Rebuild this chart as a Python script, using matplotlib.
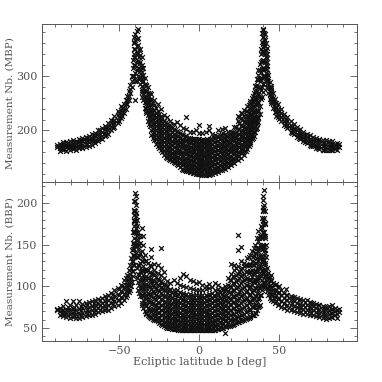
import matplotlib
matplotlib.use('Agg')
import matplotlib.pyplot as plt
from matplotlib.ticker import MultipleLocator

# Values: latitude columns and the counts read in each
top_lat = [-89,-87,-85,-83,-81,-79,-77,-75,-73,-71,-69,-67,-65,-63,-61,-59,-57,-55,-53,-51,-49,-47,-46,-45,-44,-43,-42,
           -41.5,-41,-40.5,-40,-39,-38,-37,-36,-35,-34,-33,-32,-31,-30,-28,-26,-24,-22,-20,-18,-16,-14,-12,-10,-8,-6,-4,-2,
           0,2,4,6,8,10,12,14,16,18,20,22,24,26,28,30,31,32,33,34,35,36,37,38,38.5,39,39.5,40,40.5,41,41.5,42,42.5,43,44,45,46,47,
           49,51,53,55,57,59,61,63,65,67,69,71,73,75,77,79,81,83,85,87,89]
top_meas = [
 [170,174],[163,168,172,176],[165,170,175,179],[163,169,174,178],[164,170,175,180],[166,171,176,182],[165,170,176,181],
 [167,172,178,184],[168,174,180,186],[170,176,182,188],[172,178,184,190],[174,180,186,193],[177,183,189,196],[181,187,193,200],
 [184,190,197,204],[189,195,202,209],[194,200,207,214],[200,206,213,220],[206,213,220,227],[213,220,228,235],[222,229,237,244],
 [232,240,248],[240,248,256],[248,256,264],[256,264,272],[268,276,284],[280,290,300],[300,315,330],[320,335,350,362],
 [300,320,340,360,372],[255,290,305,320,335,350,365,376],[290,310,325,340,355,368,382],[300,315,328,342,356,370,386],
 [285,298,312,326,338,350],[270,282,295,308,320,335],[255,266,278,290,302,315],[242,252,263,274,285,297],[232,242,252,262,272,284],
 [218,228,238,248,258,268,280],[208,217,226,236,246,256,268],[192,201,210,219,228,238,248,258,266],
 [182,190,198,206,214,222,230,238,246,256],[172,180,188,196,204,212,220,228,236,248],[165,172,180,188,196,203,210,218,226,240],
 [155,163,171,179,187,195,202,210,218,228],[150,157,165,172,180,188,195,203,211,224],[146,153,161,168,176,184,192,200,208,218],
 [142,149,156,163,170,178,186,194,202,212],[138,145,152,160,167,175,182,190,199,216],[133,141,149,156,163,171,179,187,196,210],
 [128,136,144,151,159,167,175,183,192,205],[125,133,140,148,156,164,172,180,189,225,203],[124,131,138,146,154,162,170,178,186,198],
 [122,129,136,144,152,160,168,176,184,198],[121,128,135,143,151,159,167,175,184,200],
 [120,127,135,143,151,159,167,175,184,196,210],[119,126,134,142,150,158,166,174,182,196],[118,126,134,142,150,158,166,174,182,198],
 [119,127,135,143,151,159,167,175,183,208,200],[120,128,136,144,152,160,168,176,184,194],[122,130,138,146,154,162,170,178,186,192],
 [124,132,140,148,156,164,172,180,188,200],[127,135,143,151,159,167,175,183,191,203],[130,138,146,154,162,170,178,186,194,205],
 [133,141,149,157,165,173,181,189,197],[136,144,152,160,168,176,184,192,198],[140,148,156,164,172,180,188,196,206],
 [145,153,161,169,177,185,193,203,218,226],[150,158,166,174,182,190,198,208,222,232],[155,163,171,179,187,196,205,215,226,238],
 [166,174,182,190,198,207,216,226,236,244],[172,180,188,197,206,215,224,234,246],[178,186,194,203,212,221,231,242,254],
 [184,192,200,209,218,227,237,248,260],[190,198,206,215,224,234,245,256,268],[198,206,215,225,236,248,260,272,282],
 [205,214,224,235,247,260,272,284,294],[215,225,238,252,266,280,292,302],[230,245,262,278,294,310,322],[258,275,292,308,325,340,350],
 [262,280,296,312,328,345,362,378],[270,285,300,315,330,345,360,372,386],[285,300,315,330,345,358,372,385],[300,314,328,342,356,368,378],
 [298,312,326,340,354,366,376],[292,306,320,334,348,360],[285,298,312,326,340,352],[280,292,304,318,332],[268,278,290,302],
 [258,267,277,288],[250,259,268,278],[242,251,260,268],[234,242,250,258],[224,232,240,248],[217,224,232,240],[210,217,224,231],
 [204,210,217,224],[198,204,210,217],[193,199,205,211],[188,194,200,206],[184,190,196,202],[181,187,192,198],[177,183,188,194],
 [174,180,185,191],[171,177,182,188],[168,174,180,186],[166,172,178,184],[165,171,177,183],[165,170,176,182],[164,170,175,180],
 [164,169,175,180],[166,171,176],[170,175]]

# Second reading of the dense parts, between the columns above
top_lat2 = [-86,-82,-78,-74,-70,-66,-62,-58,-54,-50,-48,-37.5,-35.5,-33.5,-31.5,-29,-27,-25,-23,-21,-19,-17,-15,-13,-11,-9,-7,-5,-3,-1,
            1,3,5,7,9,11,13,15,17,19,21,23,25,27,29,31.5,33.5,35.5,37,44.5,48,50,54,58,62,66,70,74,78,82,86]
top_meas2 = [
 [167,173],[167,172,177],[168,174,179],[171,177,183],[175,181,187],[180,186,192],[186,193,200],[192,199,206],[204,211,218],[217,225,232],[226,234,241],
 [295,308,322,335,348],[262,274,288,300,314],[236,248,258,270,282],[212,222,232,242,252,264],[186,194,203,212,220,229,238,250],
 [176,184,192,200,208,216,224,232,241],[168,176,184,192,200,207,214,222,231],[160,167,175,183,191,199,206,214,222],
 [152,160,168,176,184,192,199,207,215],[148,155,163,170,178,186,194,202,210],[144,151,159,166,173,181,189,197,205],
 [140,147,154,161,169,177,184,192,200],[136,143,151,158,165,173,181,189,197],[130,138,146,153,161,169,177,185,194],
 [127,134,142,150,158,166,174,182,190],[125,132,139,147,155,163,171,179,187],[123,130,137,145,153,161,169,177,185],
 [122,129,136,144,152,160,168,176,185],[120,128,136,144,152,160,168,176,185],[120,127,135,143,151,159,167,175,183],
 [119,127,135,143,151,159,167,175,183],[120,128,136,144,152,160,168,176,185],[121,129,137,145,153,161,169,177,185],
 [123,131,139,147,155,163,171,179,187],[125,133,141,149,157,165,173,181,189],[128,136,144,152,160,168,176,184,192],
 [131,139,147,155,163,171,179,187,195],[134,142,150,158,166,174,182,190],[138,146,154,162,170,178,186,194],
 [142,150,158,166,174,182,190,198],[147,155,163,171,179,187,196,206],[153,161,169,177,185,194,203,213,224],
 [160,168,176,184,192,201,210,220,232],[163,171,179,187,195,204,213,223,235],[175,183,191,200,209,218,228,239,250],
 [187,195,204,213,222,232,243,254,264],[202,212,222,234,246,258,270,282],[222,236,250,265,280,295,310],[254,262,272,282],
 [226,234,242,250],[221,228,235],[208,214,220],[195,201,207],[186,192,198],[179,185,191],[172,178,184],[168,174,180],[165,171,177],[165,170,175],[165,171,177]]

bot_lat = [-89,-87,-85,-83,-81,-79,-77,-75,-73,-71,-69,-67,-65,-63,-61,-59,-57,-55,-53,-51,-49,-47,-46,-45,-44,-43,-42.5,-42,
           -41.5,-41,-40.5,-40,-39.5,-39,-38,-37,-36,-35,-34,-33,-32,-31,-30,-28,-26,-24,-22,-20,-18,-16,-14,-12,-10,-8,-6,-4,-2,
           0,2,4,6,8,10,12,14,16,18,20,22,24,26,28,30,31,32,33,34,35,36,37,38,38.5,39,39.5,40,40.5,41,41.5,42,43,44,45,46,47,
           49,51,53,55,57,59,61,63,65,67,69,71,73,75,77,79,81,83,85,87,89]
bot_meas = [
 [71,73],[66,70,74],[64,68,72,76],[63,67,72,82],[62,67,72,77],[63,68,73,82],[62,67,72,77],[62,67,73,82],[63,68,74,79],[64,69,75,80],
 [65,70,75,81],[66,71,76,82],[67,72,77,83],[69,74,79,85],[70,75,80,86],[71,76,82,88],[72,78,84,90],[74,80,86,92],[76,82,88,95],
 [78,84,91,98],[80,87,94,102],[84,91,99,107],[87,94,102,110],[90,98,106,114],[93,101,110,120],[96,105,115,125],[100,110,122,134],
 [105,118,130,144],[112,125,138,152,165],[125,138,152,166,180,192],[135,150,165,178,190,202],[150,165,178,190,202,212],
 [150,164,176,188,198,208],[110,122,135,148,160,172,180],[95,105,115,125,135,145,155,165],[88,98,108,118,128,140,152,160],
 [80,90,100,110,120,130,142,170],[74,84,94,104,114,124,135,150,160],[70,80,90,100,110,120,130,138],[67,76,85,94,103,112,121,130],
 [65,74,83,92,101,110,120,128],[63,72,81,90,99,108,117,126],[62,70,79,88,97,106,115,124,135,145],
 [60,66,72,78,85,92,99,106,113,120,127],[58,63,69,75,81,88,95,102,109,116,125],[55,60,66,72,78,85,92,99,106,113,122,146],
 [52,57,63,69,75,81,88,95,102,110,117],[50,55,60,66,72,78,85,92,99,106],[50,55,60,65,71,77,83,90,97,104],
 [49,54,59,64,70,76,82,89,96,108],[49,54,59,64,69,75,81,88,95,104],[48,53,58,63,68,74,80,86,93,101,110],
 [47,52,57,62,67,73,79,85,92,100,115],[47,52,57,62,67,72,78,84,91,99,112],[47,52,56,61,66,72,78,84,91,98,108],
 [47,51,56,61,66,71,77,83,90,97,106],[47,52,56,61,66,71,77,83,89,96,104],[48,52,57,62,67,72,77,83,89,96,105],
 [48,52,57,62,67,72,77,83,89,95,102],[47,52,57,62,67,72,78,84,90,100,97],[47,52,57,62,67,73,79,85,91,98,103],
 [48,53,58,63,68,74,80,86,92,99],[47,53,58,64,70,76,82,88,95,104],[49,54,60,66,72,78,84,90,97,102],[50,55,61,67,73,79,85,91,98],
 [44,52,58,64,70,76,82,88,95,100],[52,57,63,69,75,81,87,94,102,110],[53,59,65,71,77,84,91,99,107,115,127],
 [55,61,67,74,81,88,95,103,111,120,125],[57,63,70,77,84,91,99,107,115,124,143,162],[58,65,72,80,88,96,104,112,120,130,147],
 [60,67,75,83,91,99,107,115,124,128],[62,70,78,86,94,102,110,118,126,134],[62,71,80,89,98,107,116,125,135],
 [64,73,82,91,100,109,118,127,138],[66,75,84,93,102,111,120,130,142],[66,76,86,96,106,116,126,136,146],
 [68,78,88,98,108,118,128,140,150],[72,82,92,102,112,122,134,146,158],[75,85,96,107,118,130,142,154,166],
 [78,90,102,114,126,138,150,160],[90,100,112,124,136,148,160,172],[95,108,120,132,145,158,170,182],[100,115,130,145,160,175,190],
 [105,120,135,150,165,180,195,208],[104,118,132,148,165,182,198,216],[100,112,125,140,158,175,190],[98,108,120,135,150],
 [94,103,112,122],[90,98,107,116],[86,94,102,111],[84,91,99,107],[82,89,96,104],[80,87,94,101],[78,85,92,99],[75,82,89,95],
 [74,80,86,92],[72,78,84,90],[71,77,83,88],[70,76,82,87],[69,75,80,86],[68,74,79,85],[67,73,78,84],[67,72,77,83],[66,71,76,81],
 [66,71,76,80],[64,69,74,79],[63,68,73,78],[62,67,72,76],[61,66,71,75],[62,67,72,76],[63,68,73,77],[65,70,74],[69,73]]

# Second reading of the dense parts, between the columns above
bot_lat2 = [-86,-82,-78,-74,-70,-66,-62,-58,-54,-50,-48,-44.5,-41.5,-40.5,-39.5,-37.5,-35.5,-33.5,-31.5,-29,-27,-25,-23,-21,-19,-17,-15,-13,-11,-9,-7,-5,-3,-1,
            1,3,5,7,9,11,13,15,17,19,21,23,25,27,29,31.5,33.5,35.5,37.5,40,41,44.5,48,50,54,58,62,66,70,74,78,82,86]
bot_meas2 = [
 [67,71],[66,71,75],[65,70,75],[66,71,76],[67,72,78],[69,74,80],[72,77,83],[74,80,86],[79,85,91],[83,90,97],[86,93,100],
 [94,102,112],[118,130,145],[145,158,172,186],[140,156,170,184],[92,102,114,126,138,150],[78,88,98,108,118,130],
 [68,78,88,98,108,118],[64,73,82,91,100,110],[61,67,73,80,87,94,101,108,115],[59,65,71,77,83,90,97,104,111],
 [56,62,68,74,80,87,94,101,108],[53,59,65,71,77,83,90,97,104],[51,57,63,69,75,81,88,95,102],[50,56,62,68,74,80,87,94],
 [49,55,61,67,73,79,86,93],[49,55,61,67,73,79,85,92],[48,54,60,66,72,78,84,91],[47,53,59,65,71,77,83,90],[47,53,59,64,70,76,82,89],
 [47,53,58,64,70,75,81,88],[47,52,58,63,69,75,81,87],[47,53,58,64,69,75,81,87],[48,53,59,64,69,75,80,87],[48,53,59,64,69,75,80,86],
 [47,53,59,64,70,75,81,87],[47,53,59,65,70,76,82,88],[48,54,60,65,71,77,83,89],[48,54,60,66,72,78,84,90],[49,55,61,67,73,79,85,92],
 [50,56,62,68,74,80,86,93],[50,56,63,69,75,81,88,95],[51,58,64,70,77,83,90,97],[52,59,65,72,79,86,93,100,108],
 [54,60,67,74,81,88,96,104,112],[56,62,69,76,83,90,98,106,114,122],[57,64,71,78,86,94,102,110,118],[59,66,74,82,90,98,106,114,122],
 [61,69,77,85,93,101,109,117,126],[63,72,81,90,99,108,117,126],[65,75,85,95,105,115,125,135],[68,78,88,98,108,118,128,140],
 [76,86,98,110,122,134,146,158],[100,116,132,148,164,178,192,204],[102,114,128,144,160,176],[90,98,106,114],[82,89,96,103],[79,86,93,100],
 [76,83,90,97],[73,80,87],[71,77,83],[69,75,81],[68,74,80],[66,72,78],[65,70,75],[63,68,73],[62,67,72]]

x_ticks = [-50, 0, 50]
top_ticks = [200, 300]
bot_ticks = [50, 100, 150, 200]
x_label = 'Ecliptic latitude b [deg]'
top_label = 'Measurement Nb. (MBP)'
bot_label = 'Measurement Nb. (BBP)'

plt.rcParams['font.family'] = 'DejaVu Serif'
GREY = '#555555'
fig = plt.figure(figsize=(3.82, 3.82), dpi=100)
W = H = 382
ax1 = fig.add_axes([42/W, 1-182/H, (356.5-42)/W, (182-23.5)/H])
ax2 = fig.add_axes([42/W, 1-341/H, (356.5-42)/W, (341-182)/H])


def flat(lat, meas):
    xs, ys = [], []
    for b, col in zip(lat, meas):
        for v in col:
            xs.append(b)
            ys.append(v)
    return xs, ys


panels = ((ax1, top_lat, top_meas, top_lat2, top_meas2), (ax2, bot_lat, bot_meas, bot_lat2, bot_meas2))
for ax, lat, meas, lat2, meas2 in panels:
    for a, m in ((lat, meas), (lat2, meas2)):
        xs, ys = flat(a, m)
        ax.scatter(xs, ys, marker='x', s=12, c='#111111', linewidths=0.9, zorder=3)
    ax.set_xlim(-98.2, 98.2)
    ax.xaxis.set_major_locator(MultipleLocator(50))
    ax.xaxis.set_minor_locator(MultipleLocator(10))
    ax.tick_params(which='both', direction='in', top=True, right=True, color=GREY,
                   labelcolor=GREY, labelsize=8, width=0.6)
    ax.tick_params(which='major', length=5)
    ax.tick_params(which='minor', length=2.5)
    for s in ax.spines.values():
        s.set_color(GREY)
        s.set_linewidth(0.7)

ax1.set_ylim(105.5, 396)
ax1.set_yticks(top_ticks)
ax1.yaxis.set_minor_locator(MultipleLocator(20))
ax1.set_xticks(x_ticks)
ax1.tick_params(labelbottom=False)
ax2.set_ylim(34.4, 225)
ax2.set_yticks(bot_ticks)
ax2.yaxis.set_minor_locator(MultipleLocator(10))
ax2.set_xticks(x_ticks)
ax2.set_xticklabels(['\u221250', '0', '50'])
ax1.set_ylabel(top_label, color=GREY, fontsize=7.5, labelpad=1)
ax2.set_ylabel(bot_label, color=GREY, fontsize=7.5, labelpad=1)
ax2.set_xlabel(x_label, color=GREY, fontsize=8, labelpad=1)
fig.savefig('out.png', dpi=100)
